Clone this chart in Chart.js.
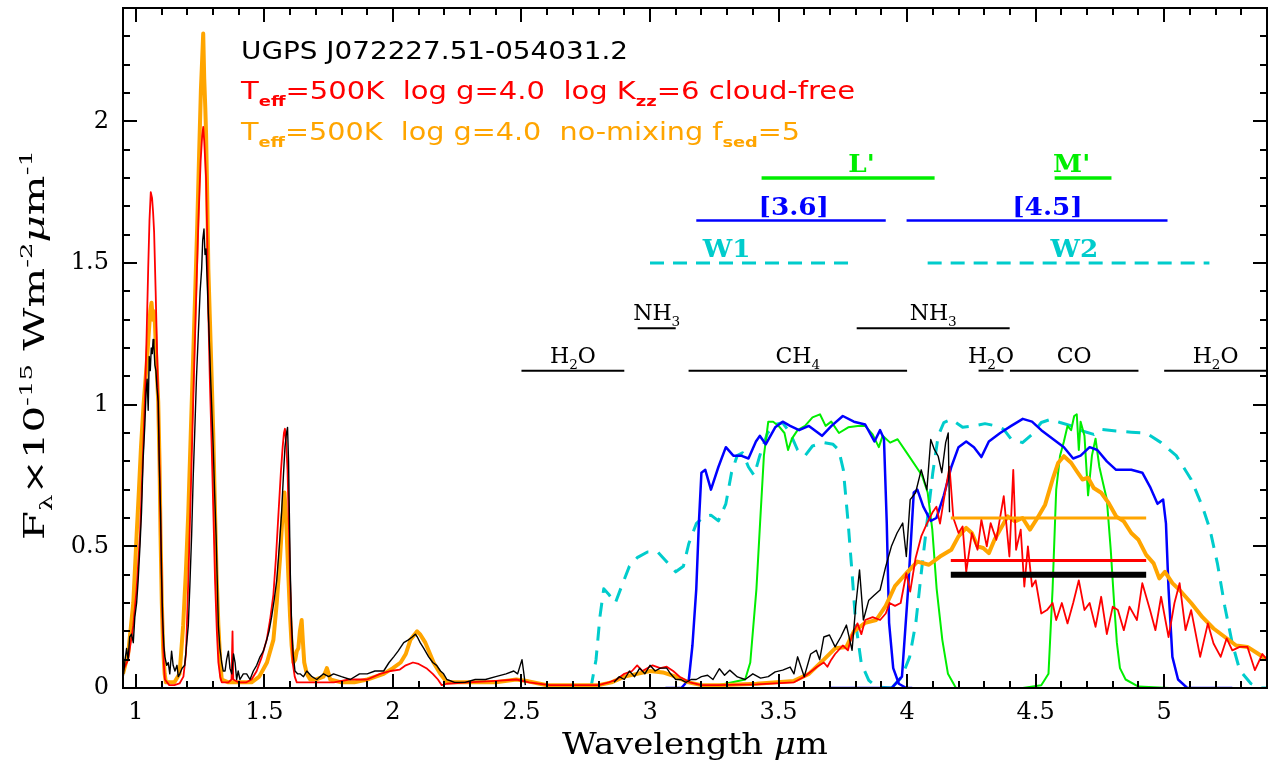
<!DOCTYPE html>
<html>
<head>
<meta charset="utf-8">
<script src="https://cdn.jsdelivr.net/npm/chart.js@4/dist/chart.umd.min.js"></script>
<style>
  body { margin: 0; background: #fff; }
  canvas { display: block; }
</style>
</head>
<body>
<canvas id="spec" width="1269" height="766"></canvas>
<script>
// --- data (wavelength in micron, flux in 1e-15 W m-2 um-1) ---

// observed spectrum UGPS J0722 (black); null = no data
const obsWave = [0.950,0.958,0.964,0.970,0.976,0.983,0.990,0.996,1.003,1.009,1.016,1.022,1.028,1.035,1.040,1.044,1.048,1.052,1.056,1.060,1.064,1.067,1.070,1.074,1.078,1.082,1.087,1.091,1.096,1.100,1.104,1.109,1.113,1.120,1.126,1.132,1.139,1.145,1.152,1.160,1.165,1.171,1.180,1.190,1.197,1.204,1.210,1.217,1.223,1.230,1.236,1.243,1.250,1.256,1.260,1.265,1.269,1.273,1.278,1.282,1.286,1.291,1.296,1.301,1.306,1.312,1.316,1.321,1.327,1.334,1.340,1.347,1.353,1.360,1.366,1.373,1.380,1.386,1.392,1.398,1.405,1.418,1.431,1.444,1.457,1.470,1.483,1.496,1.509,1.518,1.528,1.538,1.548,1.558,1.567,1.574,1.580,1.586,1.590,1.594,1.597,1.601,1.606,1.612,1.619,1.629,1.639,1.652,1.665,1.685,1.704,1.730,1.750,1.769,1.800,1.834,1.870,1.900,1.930,1.964,1.985,2.003,2.020,2.042,2.060,2.075,2.087,2.095,2.106,2.120,2.139,2.155,2.170,2.185,2.197,2.210,2.240,2.280,2.320,2.360,2.400,2.440,2.470,2.485,2.495,2.502,2.508,2.515,
  2.700,
  2.860,2.880,2.900,2.920,2.940,2.960,2.980,3.000,3.020,3.040,3.065,3.080,3.100,3.120,3.140,3.160,3.180,3.200,3.224,3.245,3.270,3.290,3.310,3.340,3.370,3.400,3.430,3.460,3.487,3.516,3.545,3.560,3.574,3.600,3.625,3.647,3.660,3.676,3.698,3.720,3.742,3.764,3.786,3.800,3.815,3.830,3.851,3.873,3.895,3.917,3.939,3.961,3.983,3.997,4.012,4.033,4.055,4.077,4.092,4.106,4.121,4.135,4.150,4.160,4.165];
const obsFlux = [0.03,0.10,0.14,0.10,0.18,0.19,0.16,0.25,0.30,0.38,0.50,0.62,0.80,0.93,1.05,1.09,0.98,1.17,1.12,1.20,1.18,1.23,1.21,1.14,1.12,1.06,1.01,0.80,0.62,0.40,0.25,0.15,0.11,0.08,0.09,0.05,0.13,0.08,0.06,0.08,0.04,0.05,0.07,0.08,0.15,0.22,0.36,0.54,0.74,0.93,1.10,1.25,1.40,1.48,1.58,1.62,1.53,1.55,1.42,1.32,1.22,1.09,0.97,0.85,0.70,0.54,0.40,0.22,0.14,0.09,0.06,0.06,0.10,0.13,0.07,0.05,0.12,0.09,0.03,0.06,0.03,0.05,0.05,0.03,0.06,0.08,0.11,0.13,0.17,0.20,0.25,0.31,0.38,0.50,0.62,0.75,0.85,0.90,0.92,0.80,0.62,0.40,0.22,0.12,0.06,0.05,0.05,0.04,0.06,0.04,0.03,0.05,0.04,0.05,0.04,0.03,0.05,0.05,0.06,0.06,0.09,0.11,0.13,0.16,0.17,0.18,0.19,0.18,0.16,0.14,0.11,0.09,0.08,0.06,0.05,0.03,0.02,0.02,0.03,0.03,0.04,0.05,0.06,0.05,0.08,0.10,0.06,0.01,
  null,
  0.02,0.04,0.03,0.06,0.04,0.07,0.05,0.08,0.06,0.07,0.07,0.05,0.03,0.03,0.02,0.03,0.03,0.04,0.045,0.03,0.068,0.045,0.063,0.039,0.03,0.05,0.035,0.04,0.057,0.063,0.074,0.05,0.11,0.04,0.12,0.133,0.10,0.18,0.187,0.145,0.18,0.222,0.133,0.287,0.417,0.24,0.31,0.328,0.346,0.429,0.50,0.547,0.582,0.464,0.665,0.689,0.77,0.70,0.877,0.842,0.818,0.76,0.866,0.90,0.62];

// model Teff=500K log g=4.0 log Kzz=6 cloud-free (red)
const kzzWave = [0.950,0.970,0.990,1.003,1.016,1.026,1.035,1.042,1.048,1.053,1.058,1.063,1.067,1.071,1.077,1.083,1.089,1.094,1.099,1.104,1.109,1.113,1.130,1.150,1.170,1.185,1.195,1.204,1.214,1.223,1.233,1.243,1.252,1.258,1.262,1.266,1.273,1.278,1.282,1.288,1.295,1.302,1.308,1.315,1.321,1.328,1.334,1.360,1.372,1.376,1.379,1.400,1.430,1.450,1.470,1.490,1.509,1.522,1.535,1.545,1.555,1.564,1.571,1.576,1.580,1.585,1.590,1.595,1.600,1.605,1.610,1.618,1.626,1.700,1.770,1.830,1.900,1.950,1.990,2.027,2.050,2.078,2.100,2.130,2.155,2.175,2.190,2.210,2.290,2.400,2.480,2.530,2.610,2.700,2.800,2.840,2.870,2.900,2.930,2.950,2.970,3.010,3.040,3.065,3.090,3.115,3.155,3.200,3.260,3.414,3.560,3.600,3.650,3.676,3.690,3.705,3.720,3.750,3.770,3.786,3.807,3.822,3.837,3.866,3.895,3.917,3.932,3.953,3.975,3.997,4.012,4.033,4.055,4.077,4.099,4.114,4.128,4.143,4.165,4.180,4.200,4.216,4.230,4.252,4.274,4.289,4.310,4.325,4.347,4.376,4.398,4.413,4.424,4.442,4.456,4.470,4.486,4.500,4.522,4.544,4.566,4.580,4.602,4.624,4.646,4.668,4.690,4.710,4.733,4.755,4.777,4.800,4.820,4.843,4.865,4.894,4.915,4.945,4.966,4.988,5.017,5.040,5.060,5.083,5.105,5.140,5.170,5.192,5.220,5.243,5.265,5.294,5.324,5.353,5.382,5.400];
const kzzFlux = [0.06,0.10,0.22,0.35,0.54,0.78,1.01,1.25,1.48,1.65,1.75,1.73,1.68,1.61,1.40,1.17,0.92,0.69,0.45,0.22,0.08,0.03,0.01,0.01,0.016,0.04,0.12,0.38,0.70,1.01,1.33,1.64,1.86,1.95,1.98,1.93,1.80,1.58,1.32,1.08,0.85,0.60,0.38,0.20,0.09,0.04,0.02,0.02,0.03,0.20,0.03,0.02,0.02,0.03,0.06,0.11,0.17,0.24,0.33,0.46,0.62,0.76,0.85,0.90,0.915,0.86,0.77,0.58,0.38,0.22,0.09,0.04,0.02,0.02,0.02,0.03,0.03,0.05,0.06,0.065,0.08,0.09,0.085,0.07,0.05,0.03,0.01,0.015,0.02,0.025,0.03,0.02,0.01,0.01,0.01,0.02,0.03,0.05,0.06,0.08,0.06,0.08,0.07,0.075,0.06,0.04,0.02,0.01,0.01,0.013,0.02,0.04,0.075,0.09,0.075,0.10,0.12,0.15,0.133,0.187,0.228,0.19,0.24,0.25,0.24,0.263,0.30,0.29,0.30,0.405,0.34,0.458,0.535,0.58,0.62,0.64,0.58,0.665,0.78,0.60,0.547,0.57,0.41,0.547,0.488,0.594,0.50,0.582,0.523,0.677,0.464,0.77,0.488,0.559,0.358,0.50,0.358,0.38,0.263,0.275,0.30,0.24,0.30,0.228,0.30,0.38,0.275,0.30,0.216,0.322,0.19,0.287,0.275,0.204,0.287,0.24,0.37,0.275,0.204,0.322,0.18,0.30,0.37,0.204,0.275,0.11,0.228,0.157,0.11,0.175,0.133,0.145,0.145,0.063,0.12,0.10];

// model Teff=500K log g=4.0 no-mixing fsed=5 (orange)
const noMixWave = [0.950,0.970,0.990,1.003,1.012,1.020,1.030,1.042,1.050,1.056,1.061,1.066,1.070,1.074,1.080,1.087,1.092,1.096,1.101,1.106,1.112,1.117,1.150,1.170,1.184,1.195,1.204,1.213,1.223,1.231,1.239,1.246,1.253,1.258,1.262,1.266,1.270,1.273,1.278,1.282,1.288,1.295,1.301,1.308,1.314,1.321,1.328,1.334,1.360,1.400,1.450,1.480,1.510,1.535,1.548,1.561,1.570,1.578,1.583,1.587,1.593,1.600,1.606,1.613,1.620,1.626,1.632,1.638,1.645,1.650,1.655,1.665,1.678,1.700,1.730,1.743,1.750,1.756,1.800,1.850,1.900,1.964,2.000,2.030,2.050,2.068,2.085,2.094,2.105,2.126,2.140,2.158,2.184,2.210,2.300,2.400,2.480,2.520,2.600,2.700,2.800,2.850,2.900,2.950,3.000,3.050,3.100,3.150,3.200,3.270,3.414,3.560,3.618,3.676,3.720,3.764,3.793,3.837,3.880,3.917,3.953,3.997,4.040,4.085,4.128,4.172,4.200,4.230,4.252,4.274,4.296,4.318,4.340,4.362,4.391,4.420,4.449,4.478,4.507,4.537,4.566,4.588,4.610,4.638,4.660,4.682,4.704,4.726,4.755,4.784,4.813,4.843,4.872,4.900,4.930,4.959,4.981,5.003,5.032,5.060,5.105,5.149,5.192,5.236,5.280,5.324,5.367,5.400];
const noMixFlux = [0.05,0.12,0.30,0.54,0.70,0.85,1.00,1.14,1.25,1.33,1.36,1.30,1.33,1.29,1.15,1.01,0.80,0.54,0.30,0.14,0.05,0.02,0.02,0.05,0.22,0.42,0.62,0.88,1.17,1.40,1.64,1.88,2.11,2.22,2.31,2.15,2.05,1.96,1.72,1.48,1.30,1.09,0.90,0.62,0.40,0.22,0.10,0.03,0.02,0.02,0.02,0.04,0.09,0.17,0.30,0.46,0.60,0.69,0.62,0.54,0.40,0.25,0.15,0.09,0.10,0.13,0.14,0.20,0.24,0.16,0.09,0.05,0.03,0.03,0.04,0.07,0.05,0.03,0.02,0.02,0.03,0.05,0.07,0.09,0.12,0.17,0.19,0.20,0.19,0.16,0.13,0.09,0.05,0.02,0.02,0.02,0.03,0.025,0.01,0.01,0.01,0.02,0.04,0.05,0.06,0.055,0.04,0.02,0.01,0.01,0.015,0.025,0.05,0.10,0.14,0.145,0.20,0.23,0.24,0.29,0.36,0.405,0.446,0.435,0.464,0.488,0.535,0.565,0.547,0.50,0.494,0.476,0.523,0.559,0.606,0.588,0.60,0.559,0.60,0.647,0.736,0.795,0.818,0.795,0.765,0.736,0.742,0.706,0.689,0.653,0.606,0.588,0.547,0.523,0.47,0.44,0.387,0.41,0.37,0.346,0.30,0.25,0.21,0.18,0.15,0.145,0.12,0.10];

// filter transmission curves (scaled to the flux axis)
const irac1Wave = [3.06,3.122,3.151,3.165,3.18,3.19,3.20,3.215,3.237,3.266,3.295,3.324,3.354,3.383,3.412,3.427,3.45,3.487,3.516,3.545,3.58,3.618,3.669,3.706,3.75,3.793,3.837,3.873,3.895,3.91,3.921,3.93,3.946,3.968,3.997,4.02];
const irac1Trans = [0,0,0.03,0.15,0.35,0.58,0.76,0.77,0.70,0.78,0.85,0.82,0.82,0.81,0.87,0.89,0.86,0.92,0.94,0.925,0.91,0.925,0.89,0.925,0.96,0.94,0.93,0.87,0.91,0.88,0.58,0.23,0.07,0.015,0,0];
const irac2Wave = [3.70,3.94,3.98,4.004,4.026,4.04,4.063,4.092,4.114,4.143,4.172,4.20,4.23,4.26,4.289,4.318,4.362,4.405,4.45,4.486,4.522,4.566,4.61,4.646,4.675,4.71,4.74,4.777,4.813,4.872,4.915,4.945,4.974,4.996,5.007,5.017,5.032,5.054,5.09,5.265];
const irac2Trans = [0,0,0.04,0.35,0.69,0.70,0.64,0.59,0.60,0.68,0.78,0.85,0.87,0.85,0.815,0.87,0.90,0.925,0.95,0.94,0.91,0.88,0.85,0.81,0.82,0.85,0.84,0.80,0.77,0.77,0.76,0.71,0.65,0.665,0.58,0.35,0.11,0.03,0,0];
const lpWave = [3.20,3.266,3.37,3.39,3.414,3.428,3.443,3.46,3.479,3.50,3.523,3.537,3.552,3.574,3.603,3.632,3.661,3.683,3.705,3.735,3.771,3.808,3.837,3.866,3.89,3.905,3.934,3.963,3.999,4.036,4.058,4.08,4.098,4.115,4.137,4.159,4.19,4.22];
const lpTrans = [0,0.01,0.03,0.09,0.35,0.58,0.82,0.94,0.94,0.925,0.90,0.84,0.88,0.91,0.925,0.955,0.966,0.925,0.94,0.90,0.92,0.925,0.925,0.895,0.85,0.89,0.866,0.878,0.83,0.78,0.75,0.69,0.56,0.35,0.17,0.05,0,0];
const mpWave = [4.45,4.522,4.55,4.566,4.58,4.595,4.61,4.624,4.638,4.65,4.66,4.668,4.675,4.69,4.704,4.719,4.733,4.748,4.763,4.777,4.792,4.806,4.816,4.828,4.85,4.90,5.02];
const mpTrans = [0,0.01,0.05,0.35,0.70,0.82,0.87,0.925,0.91,0.96,0.966,0.84,0.94,0.89,0.68,0.82,0.88,0.78,0.72,0.665,0.49,0.29,0.16,0.07,0.03,0.005,0];
const w1Wave = [2.77,2.79,2.805,2.82,2.84,2.865,2.89,2.92,2.95,2.99,3.03,3.07,3.10,3.13,3.151,3.18,3.209,3.237,3.266,3.295,3.317,3.339,3.36,3.383,3.405,3.427,3.457,3.487,3.516,3.545,3.574,3.603,3.632,3.676,3.712,3.734,3.752,3.771,3.786,3.80,3.822,3.851,3.88,3.94];
const w1Trans = [0,0.10,0.25,0.35,0.33,0.30,0.36,0.43,0.46,0.48,0.48,0.44,0.41,0.43,0.51,0.58,0.605,0.61,0.59,0.65,0.76,0.82,0.83,0.78,0.75,0.82,0.90,0.93,0.936,0.90,0.84,0.82,0.854,0.866,0.86,0.84,0.77,0.58,0.405,0.23,0.086,0.027,0.004,0];
const w2Wave = [3.94,3.98,4.01,4.034,4.055,4.077,4.10,4.121,4.143,4.172,4.216,4.26,4.303,4.347,4.376,4.405,4.449,4.486,4.522,4.558,4.595,4.64,4.682,4.726,4.755,4.813,4.872,4.93,4.988,5.047,5.105,5.149,5.178,5.207,5.236,5.265,5.294,5.338,5.375,5.40];
const w2Trans = [0,0.04,0.11,0.23,0.405,0.58,0.76,0.89,0.937,0.948,0.92,0.925,0.933,0.925,0.913,0.878,0.866,0.895,0.937,0.948,0.937,0.925,0.907,0.895,0.913,0.907,0.903,0.90,0.866,0.82,0.736,0.64,0.56,0.44,0.287,0.157,0.063,0.015,0,0];

// band-pass markers: name, wavelength span, flux level, label position
const bandNames  = ["L'", "M'", "[3.6]", "[4.5]", "W1", "W2"];
const bandStart  = [3.434, 4.574, 3.18, 3.998, 3.00, 4.08];
const bandEnd    = [4.107, 4.795, 3.917, 5.013, 3.777, 5.176];
const bandLevel  = [1.80, 1.80, 1.65, 1.65, 1.50, 1.50];
const bandLabelX = [3.823, 4.64, 3.559, 4.546, 3.298, 4.651];
const bandKind   = ['mko', 'mko', 'irac', 'irac', 'wise', 'wise'];

// absorption features
const molNames = ['H_{2}O', 'NH_{3}', 'CH_{4}', 'NH_{3}', 'H_{2}O', 'CO', 'H_{2}O'];
const molStart = [2.50, 2.952, 3.15, 3.804, 4.278, 4.40, 5.00];
const molEnd   = [2.90, 3.10, 4.00, 4.399, 4.375, 4.90, 5.40];
const molLevel = [1.12, 1.27, 1.12, 1.27, 1.12, 1.12, 1.12];

// synthetic photometry over the [4.5] band
const photWave = [4.17, 4.93];
const photObs = 0.40;
const photKzz = 0.45;
const photNoMix = 0.60;

// axis ticks
const xTickLabels = [1, 1.5, 2, 2.5, 3, 3.5, 4, 4.5, 5];
const yTickLabels = [0, 0.5, 1, 1.5, 2];

// legend lines
const legendLines = [
  'UGPS J072227.51-054031.2',
  'T_{eff}=500K  log g=4.0  log K_{zz}=6 cloud-free',
  'T_{eff}=500K  log g=4.0  no-mixing f_{sed}=5'
];

// --- styles ---
const BLACK = '#000000', RED = '#ff0000', ORANGE = '#ffa500';
const BLUE = '#0000ff', GREEN = '#00ee00', CYAN = '#00cccc';
const kindColor = { mko: GREEN, irac: BLUE, wise: CYAN };
const kindWidth = { mko: 3.5, irac: 2.5, wise: 3 };

function pts(w, f) { return w.map((v, i) => ({ x: v, y: f[i] })); }

function lineDs(w, f, color, width, order, dash) {
  return {
    data: pts(w, f), borderColor: color, borderWidth: width, order: order,
    borderDash: dash || [], pointRadius: 0, tension: 0, spanGaps: false,
    borderJoinStyle: 'round', borderCapStyle: 'butt', fill: false
  };
}

const datasets = [];
datasets.push(lineDs(photWave, [photObs, photObs], BLACK, 6, 0));
datasets.push(lineDs(photWave, [photKzz, photKzz], RED, 3, 0));
datasets.push(lineDs(photWave, [photNoMix, photNoMix], ORANGE, 3, 0));
datasets.push(lineDs(obsWave, obsFlux, BLACK, 1.4, 1));
datasets.push(lineDs(kzzWave, kzzFlux, RED, 1.8, 2));
datasets.push(lineDs(noMixWave, noMixFlux, ORANGE, 4, 3));
datasets.push(lineDs(irac1Wave, irac1Trans, BLUE, 2.5, 4));
datasets.push(lineDs(irac2Wave, irac2Trans, BLUE, 2.5, 4));
datasets.push(lineDs(lpWave, lpTrans, GREEN, 2, 5));
datasets.push(lineDs(mpWave, mpTrans, GREEN, 2, 5));
datasets.push(lineDs(w1Wave, w1Trans, CYAN, 3, 6, [14, 10]));
datasets.push(lineDs(w2Wave, w2Trans, CYAN, 3, 6, [14, 10]));
bandNames.forEach((n, i) => {
  const k = bandKind[i];
  datasets.push(lineDs([bandStart[i], bandEnd[i]], [bandLevel[i], bandLevel[i]],
    kindColor[k], kindWidth[k], 0, k === 'wise' ? [14, 9] : null));
});
molNames.forEach((n, i) => {
  datasets.push(lineDs([molStart[i], molEnd[i]], [molLevel[i], molLevel[i]], BLACK, 2, 0));
});

// --- rich text with sub/superscripts: _{..} sub, ^{..} sup, ~{..} italic ---
function parseRich(str) {
  const segs = [];
  const re = /([_^~])\{([^}]*)\}/g;
  let last = 0, m;
  while ((m = re.exec(str))) {
    if (m.index > last) segs.push({ t: str.slice(last, m.index), k: '' });
    segs.push({ t: m[2], k: m[1] });
    last = re.lastIndex;
  }
  if (last < str.length) segs.push({ t: str.slice(last), k: '' });
  return segs;
}
function segFont(s, o) {
  const small = s.k === '_' || s.k === '^';
  const size = small ? o.size * 0.62 : o.size;
  const style = s.k === '~' ? 'italic ' : '';
  const weight = small && o.subBold ? 'bold ' : (o.weight ? o.weight + ' ' : '');
  return style + weight + size.toFixed(1) + 'px ' + o.family;
}
function drawRich(ctx, str, x, y, o) {
  const segs = parseRich(str);
  ctx.save();
  ctx.textBaseline = 'alphabetic';
  ctx.textAlign = 'left';
  let w = 0;
  segs.forEach(s => { ctx.font = segFont(s, o); s.w = ctx.measureText(s.t).width; w += s.w; });
  const sx = o.width ? o.width / w : (o.stretch || 1);
  const total = w * sx;
  const x0 = o.align === 'center' ? x - total / 2 : (o.align === 'right' ? x - total : x);
  ctx.translate(x0, y);
  ctx.scale(sx, 1);
  ctx.fillStyle = o.color;
  let cx = 0;
  segs.forEach(s => {
    ctx.font = segFont(s, o);
    const dy = s.k === '_' ? o.size * 0.28 : (s.k === '^' ? -o.size * 0.42 : 0);
    ctx.fillText(s.t, cx, dy);
    cx += s.w;
  });
  ctx.restore();
}

// frame, inward ticks, titles and annotations
const decor = {
  id: 'decor',
  afterDatasetsDraw(chart) {
    const { ctx, chartArea: a } = chart;
    const xs = chart.scales.x, ys = chart.scales.y;
    ctx.save();
    ctx.strokeStyle = BLACK;
    ctx.lineWidth = 2;
    ctx.strokeRect(a.left, a.top, a.right - a.left, a.bottom - a.top);
    ctx.lineWidth = 2;
    ctx.beginPath();
    for (let i = 10; i <= 54; i++) {
      const p = Math.round(xs.getPixelForValue(i / 10));
      const len = i % 5 === 0 ? 14 : 7;
      ctx.moveTo(p, a.bottom); ctx.lineTo(p, a.bottom - len);
      ctx.moveTo(p, a.top); ctx.lineTo(p, a.top + len);
    }
    for (let i = 1; i <= 23; i++) {
      const p = Math.round(ys.getPixelForValue(i / 10));
      const len = i % 5 === 0 ? 14 : 7;
      ctx.moveTo(a.left, p); ctx.lineTo(a.left + len, p);
      ctx.moveTo(a.right, p); ctx.lineTo(a.right - len, p);
    }
    ctx.stroke();
    ctx.restore();

    // axis titles
    drawRich(ctx, 'Wavelength ~{μ}m', (a.left + a.right) / 2, 754,
      { size: 30, family: 'DejaVu Serif', color: BLACK, align: 'center', width: 266 });
    ctx.save();
    ctx.translate(44, 345);
    ctx.rotate(-Math.PI / 2);
    drawRich(ctx, 'F_{λ}×10^{-15} Wm^{-2}~{μ}m^{-1}', 0, 0,
      { size: 28, family: 'DejaVu Serif', color: BLACK, align: 'center', width: 390 });
    ctx.restore();

    // legend
    const legColors = [BLACK, RED, ORANGE];
    const legWidth = [387, 614, 559];
    const legBase = [59, 99, 140];
    legendLines.forEach((t, i) => {
      drawRich(ctx, t, 241, legBase[i],
        { size: 24, family: 'DejaVu Sans', color: legColors[i], subBold: true, width: legWidth[i] });
    });

    // band labels
    bandNames.forEach((n, i) => {
      const px = xs.getPixelForValue(bandLabelX[i]);
      const py = ys.getPixelForValue(bandLevel[i]) - 6;
      drawRich(ctx, n, px, py,
        { size: 25, family: 'DejaVu Serif', color: kindColor[bandKind[i]], align: 'center',
          weight: 'bold', stretch: 1.05 });
    });

    // molecule labels
    molNames.forEach((n, i) => {
      const px = xs.getPixelForValue((molStart[i] + molEnd[i]) / 2);
      const py = ys.getPixelForValue(molLevel[i]) - 8;
      drawRich(ctx, n, px, py,
        { size: 22, family: 'DejaVu Serif', color: BLACK, align: 'center' });
    });
  }
};

const tickFont = { family: 'DejaVu Serif', size: 24 };

new Chart(document.getElementById('spec'), {
  type: 'line',
  data: { datasets: datasets },
  options: {
    responsive: false,
    animation: false,
    devicePixelRatio: 1,
    layout: { padding: { left: 0, right: 2, top: 8, bottom: 0 } },
    plugins: { legend: { display: false }, tooltip: { enabled: false } },
    scales: {
      x: {
        type: 'linear', min: 0.95, max: 5.4,
        grid: { display: false, drawTicks: false },
        border: { display: false },
        afterBuildTicks: s => { s.ticks = xTickLabels.map(v => ({ value: v })); },
        afterFit: s => { s.height = 78; s.paddingLeft = 0; s.paddingRight = 0; },
        ticks: { font: tickFont, color: BLACK, padding: 10, maxRotation: 0, autoSkip: false,
                 callback: v => String(v) }
      },
      y: {
        type: 'linear', min: 0, max: 2.4,
        grid: { display: false, drawTicks: false },
        border: { display: false },
        afterBuildTicks: s => { s.ticks = yTickLabels.map(v => ({ value: v })); },
        afterFit: s => { s.width = 123; s.paddingTop = 0; s.paddingBottom = 0; },
        ticks: { font: tickFont, color: BLACK, padding: 14, autoSkip: false,
                 callback: v => String(v) }
      }
    }
  },
  plugins: [decor]
});
</script>
</body>
</html>
